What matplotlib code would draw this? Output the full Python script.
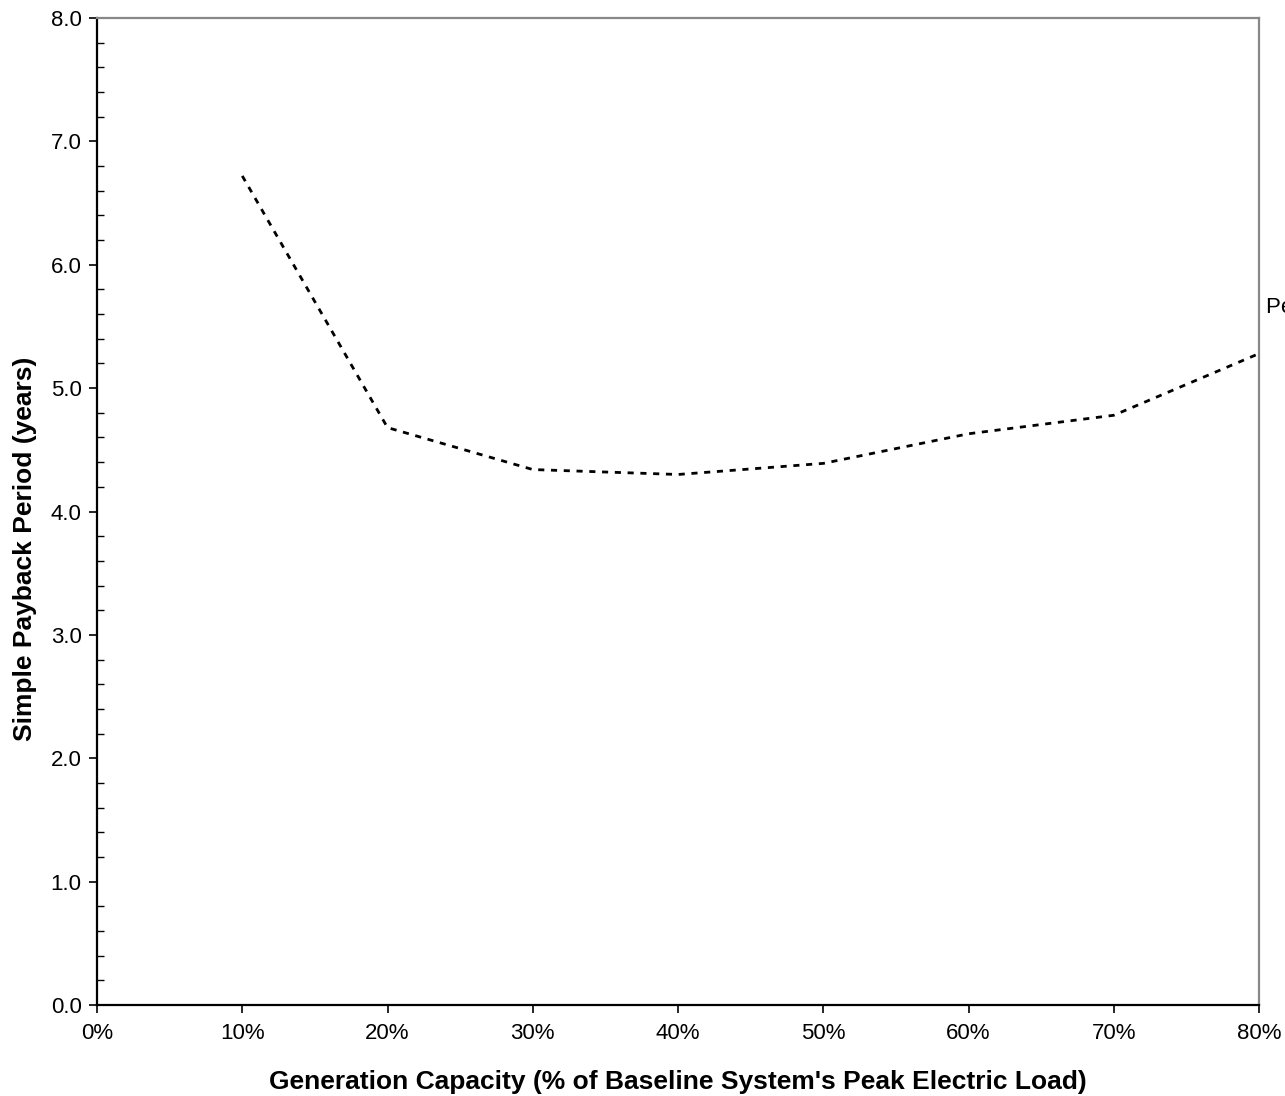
import matplotlib
matplotlib.use("Agg")
import matplotlib.pyplot as plt
from matplotlib.ticker import MultipleLocator, FuncFormatter

# generation capacity (% of peak load) and simple payback (years)
capacity = [10, 20, 30, 40, 50, 60, 70, 80]
payback = [6.72, 4.68, 4.34, 4.30, 4.39, 4.63, 4.78, 5.28]

plt.rcParams['font.family'] = ['Liberation Sans', 'DejaVu Sans']

fig = plt.figure(figsize=(12.85, 10.96), dpi=100)
ax = fig.add_axes([0.0755, 0.083, 0.9043, 0.9006])

ax.plot(capacity, payback, color='black', linewidth=2, linestyle=(0, (2.2, 2.4)))
ax.text(80.45, 5.57, "Peak Load", fontsize=16, ha='left', va='bottom')

ax.set_xlim(0, 80)
ax.set_ylim(0, 8)
ax.xaxis.set_major_locator(MultipleLocator(10))
ax.xaxis.set_major_formatter(FuncFormatter(lambda v, p: f"{v:.0f}%"))
ax.yaxis.set_major_locator(MultipleLocator(1))
ax.yaxis.set_minor_locator(MultipleLocator(0.2))
ax.yaxis.set_major_formatter(FuncFormatter(lambda v, p: f"{v:.1f}"))
ax.tick_params(axis='both', which='major', direction='out', length=6, width=1.2, labelsize=16, pad=7)
ax.tick_params(axis='y', which='major', pad=5)
ax.tick_params(axis='y', which='minor', direction='in', length=5, width=1)

for s in ['left', 'bottom']:
    ax.spines[s].set_color('black')
    ax.spines[s].set_linewidth(1.6)
for s in ['top', 'right']:
    ax.spines[s].set_color('#888888')
    ax.spines[s].set_linewidth(1.6)

ax.set_xlabel("Generation Capacity (% of Baseline System's Peak Electric Load)",
              fontsize=19, fontweight='bold', labelpad=19)
ax.set_ylabel("Simple Payback Period (years)", fontsize=19, fontweight='bold')
ax.yaxis.set_label_coords(-0.052, 0.462)

fig.savefig("out.png", dpi=100)
